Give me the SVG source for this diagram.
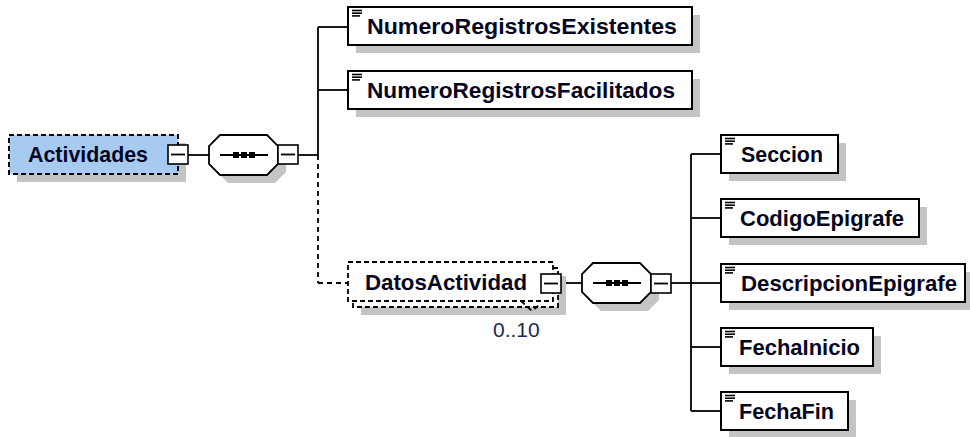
<svg xmlns="http://www.w3.org/2000/svg" width="970" height="437" viewBox="0 0 970 437">
<style>
.sh{fill:#c4c4c4;stroke:none}
.el{fill:#ffffff;stroke:#000;stroke-width:2}
.opt{fill:#ffffff;stroke:#000;stroke-width:1.8;stroke-dasharray:5,3}
.root{fill:#a6caf0;stroke:#000;stroke-width:2;stroke-dasharray:5,3}
.t{font-family:"Liberation Sans",Arial,sans-serif;font-weight:bold;font-size:22px;fill:#06061f}
.m{font-family:"Liberation Sans",Arial,sans-serif;font-size:21px;fill:#1a2a50}
.ln{stroke:#000;stroke-width:1.8;fill:none}
.dl{stroke:#000;stroke-width:1.8;fill:none;stroke-dasharray:5,4}
.mb{fill:#fff;stroke:#000;stroke-width:1.6}
.ic{stroke:#000;stroke-width:1.6}
</style>
<defs>
<g id="minus"><rect class="mb" x="0" y="0" width="20" height="19"/><line class="ln" x1="3" y1="9.5" x2="17" y2="9.5" stroke-width="1.5"/></g>
<g id="icon"><line class="ic" x1="4" y1="3.5" x2="14" y2="3.5"/><line class="ic" x1="4" y1="6.2" x2="14" y2="6.2"/><line class="ic" x1="4" y1="8.9" x2="12" y2="8.9"/></g>
<g id="seq">
<polygon class="sh" points="19,8 66,8 77,19 77,37 66,48 19,48 8,37 8,19"/>
<polygon fill="#fff" stroke="#000" stroke-width="1.8" points="11,0 58,0 69,11 69,29 58,40 11,40 0,29 0,11"/>
<line class="ln" x1="11" y1="20" x2="59" y2="20"/>
<rect x="24" y="17" width="6" height="6" fill="#000"/>
<rect x="32" y="17" width="6" height="6" fill="#000"/>
<rect x="40" y="17" width="6" height="6" fill="#000"/>
</g>
</defs>

<g id="connectors">
<line class="ln" x1="188" y1="155" x2="209" y2="155"/>
<line class="ln" x1="298" y1="155" x2="318" y2="155"/>
<line class="ln" x1="318" y1="27" x2="318" y2="155"/>
<line class="dl" x1="318" y1="155" x2="318" y2="283"/>
<line class="ln" x1="318" y1="27" x2="348" y2="27"/>
<line class="ln" x1="318" y1="90" x2="348" y2="90"/>
<line class="dl" x1="318" y1="283" x2="348" y2="283"/>
<line class="ln" x1="561" y1="283" x2="582" y2="283"/>
<line class="ln" x1="671" y1="283" x2="691" y2="283"/>
<line class="ln" x1="691" y1="154" x2="691" y2="411"/>
<line class="ln" x1="691" y1="154" x2="721" y2="154"/>
<line class="ln" x1="691" y1="218" x2="721" y2="218"/>
<line class="ln" x1="691" y1="283" x2="721" y2="283"/>
<line class="ln" x1="691" y1="347" x2="721" y2="347"/>
<line class="ln" x1="691" y1="411" x2="721" y2="411"/>
</g>

<g id="node-Actividades">
<rect class="sh" x="17" y="143" width="169" height="39"/>
<rect class="root" x="9" y="135" width="169" height="39"/>
<text class="t" x="28" y="162" textLength="120" lengthAdjust="spacingAndGlyphs">Actividades</text>
<use href="#minus" x="168" y="145"/>
</g>

<g id="node-seq1">
<use href="#seq" x="209" y="135"/>
<use href="#minus" x="278" y="145"/>
</g>

<g id="node-NumeroRegistrosExistentes">
<rect class="sh" x="356" y="15" width="344" height="38"/>
<rect class="el" x="348" y="7" width="344" height="38"/>
<use href="#icon" x="348" y="7"/>
<text class="t" x="367" y="34" textLength="310" lengthAdjust="spacingAndGlyphs">NumeroRegistrosExistentes</text>
</g>

<g id="node-NumeroRegistrosFacilitados">
<rect class="sh" x="356" y="79" width="344" height="38"/>
<rect class="el" x="348" y="71" width="344" height="38"/>
<use href="#icon" x="348" y="71"/>
<text class="t" x="367" y="98" textLength="308" lengthAdjust="spacingAndGlyphs">NumeroRegistrosFacilitados</text>
</g>

<g id="node-DatosActividad">
<rect class="sh" x="361" y="276" width="205" height="39"/>
<rect class="opt" x="353" y="268" width="205" height="39"/>
<rect class="opt" x="348" y="262" width="205" height="39"/>
<text class="t" x="365" y="290" textLength="162" lengthAdjust="spacingAndGlyphs">DatosActividad</text>
<use href="#minus" x="541" y="274"/>
<polyline class="dl" stroke-dasharray="3,2" points="521,301 532,311 539,305"/>
<text class="m" x="493" y="337">0..10</text>
</g>

<g id="node-seq2">
<use href="#seq" x="582" y="263"/>
<use href="#minus" x="651" y="274"/>
</g>

<g id="node-Seccion">
<rect class="sh" x="729" y="143" width="117" height="38"/>
<rect class="el" x="721" y="135" width="117" height="38"/>
<use href="#icon" x="721" y="135"/>
<text class="t" x="741" y="162" textLength="82" lengthAdjust="spacingAndGlyphs">Seccion</text>
</g>

<g id="node-CodigoEpigrafe">
<rect class="sh" x="729" y="207" width="198" height="38"/>
<rect class="el" x="721" y="199" width="198" height="38"/>
<use href="#icon" x="721" y="199"/>
<text class="t" x="740" y="226" textLength="164" lengthAdjust="spacingAndGlyphs">CodigoEpigrafe</text>
</g>

<g id="node-DescripcionEpigrafe">
<rect class="sh" x="729" y="272" width="244" height="38"/>
<rect class="el" x="721" y="264" width="244" height="38"/>
<use href="#icon" x="721" y="264"/>
<text class="t" x="741" y="291" textLength="216" lengthAdjust="spacingAndGlyphs">DescripcionEpigrafe</text>
</g>

<g id="node-FechaInicio">
<rect class="sh" x="729" y="336" width="152" height="38"/>
<rect class="el" x="721" y="328" width="152" height="38"/>
<use href="#icon" x="721" y="328"/>
<text class="t" x="739" y="355" textLength="121" lengthAdjust="spacingAndGlyphs">FechaInicio</text>
</g>

<g id="node-FechaFin">
<rect class="sh" x="729" y="400" width="127" height="38"/>
<rect class="el" x="721" y="392" width="127" height="38"/>
<use href="#icon" x="721" y="392"/>
<text class="t" x="739" y="419" textLength="95" lengthAdjust="spacingAndGlyphs">FechaFin</text>
</g>
</svg>
